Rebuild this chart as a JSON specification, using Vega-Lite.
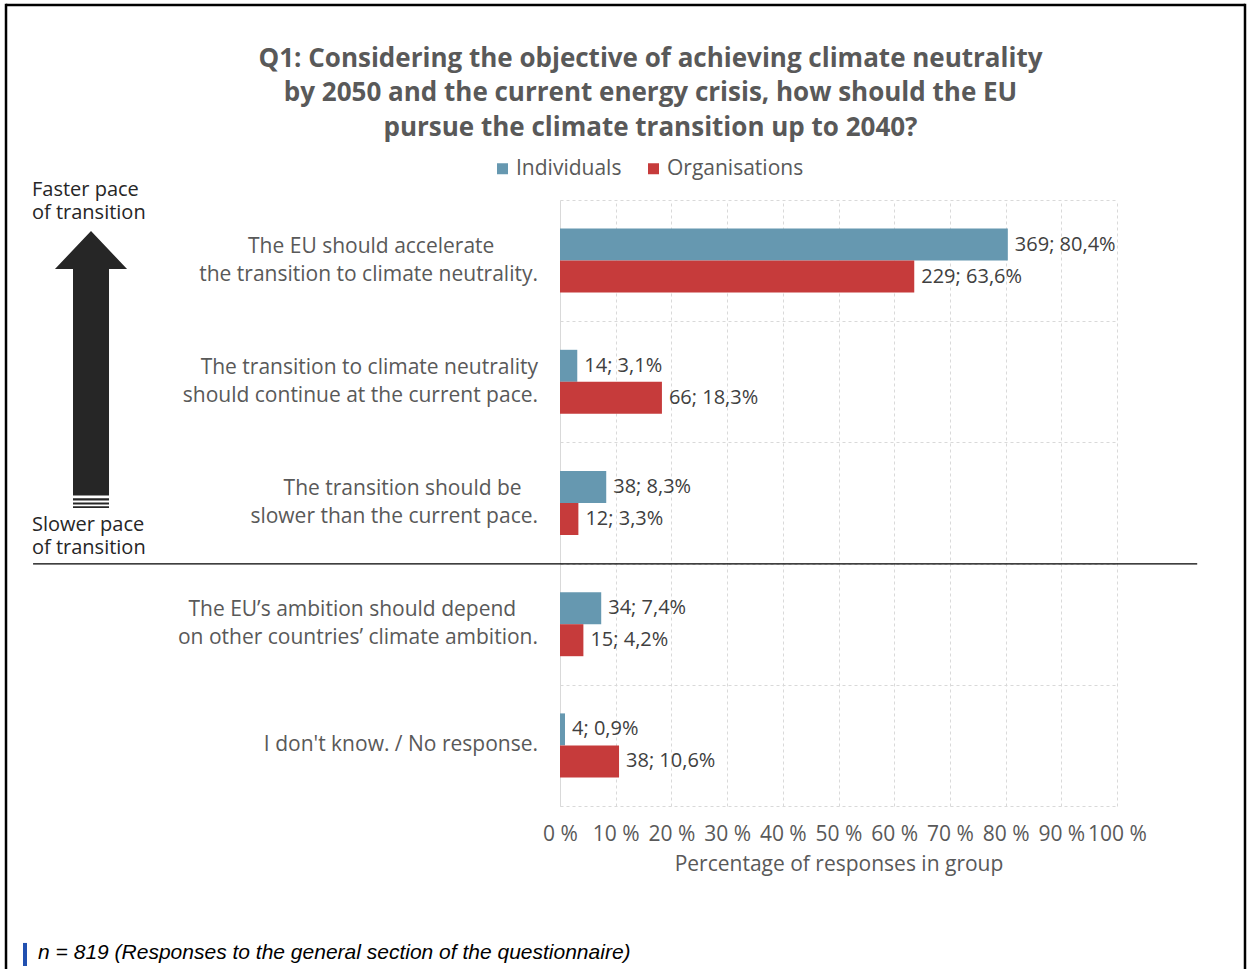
{
  "$schema": "https://vega.github.io/schema/vega-lite/v6.json",
  "width": 557,
  "height": 606,
  "autosize": {"type": "none"},
  "padding": {"left": 560, "top": 200, "right": 131, "bottom": 163},
  "background": "white",
  "title": {
    "text": [
      "Q1: Considering the objective of achieving climate neutrality",
      "by 2050 and the current energy crisis, how should the EU",
      "pursue the climate transition up to 2040?"
    ],
    "anchor": "middle",
    "frame": "group",
    "dx": -188,
    "dy": 158,
    "offset": 20,
    "font": "Open Sans",
    "fontSize": 26,
    "fontWeight": "bold",
    "color": "#595959",
    "lineHeight": 34.5
  },
  "config": {"view": {"stroke": null}, "font": "Open Sans"},
  "layer": [
    {
      "data": {
        "values": [
          {"q": "The EU should accelerate\nthe transition to climate neutrality.", "group": "Individuals", "n": 369, "pct": 80.4},
          {"q": "The EU should accelerate\nthe transition to climate neutrality.", "group": "Organisations", "n": 229, "pct": 63.6},
          {"q": "The transition to climate neutrality\nshould continue at the current pace.", "group": "Individuals", "n": 14, "pct": 3.1},
          {"q": "The transition to climate neutrality\nshould continue at the current pace.", "group": "Organisations", "n": 66, "pct": 18.3},
          {"q": "The transition should be\nslower than the current pace.", "group": "Individuals", "n": 38, "pct": 8.3},
          {"q": "The transition should be\nslower than the current pace.", "group": "Organisations", "n": 12, "pct": 3.3},
          {"q": "The EU’s ambition should depend\non other countries’ climate ambition.", "group": "Individuals", "n": 34, "pct": 7.4},
          {"q": "The EU’s ambition should depend\non other countries’ climate ambition.", "group": "Organisations", "n": 15, "pct": 4.2},
          {"q": "I don't know. / No response.", "group": "Individuals", "n": 4, "pct": 0.9},
          {"q": "I don't know. / No response.", "group": "Organisations", "n": 38, "pct": 10.6}
        ]
      },
      "transform": [
        {"calculate": "datum.n + '; ' + replace(format(datum.pct, '.1f'), '.', ',') + '%'", "as": "label"},
        {"calculate": "split(datum.q, '\\n')[0]", "as": "l1"},
        {"calculate": "indexof(datum.q, '\\n') >= 0 ? split(datum.q, '\\n')[1] : ''", "as": "l2"},
        {"calculate": "length(datum.l1) < length(datum.l2) ? pad(datum.l1, length(datum.l1) + round(0.65 * (length(datum.l2) - length(datum.l1))), '\u00a0', 'right') + '\u2060' : datum.l1", "as": "t1"},
        {"calculate": "length(datum.l2) < length(datum.l1) ? pad(datum.l2, length(datum.l2) + round(0.65 * (length(datum.l1) - length(datum.l2))), '\u00a0', 'right') + '\u2060' : datum.l2", "as": "t2"}
      ],
      "encoding": {
        "y": {
          "field": "q",
          "type": "nominal",
          "sort": null,
          "scale": {"paddingInner": 0, "paddingOuter": 0},
          "axis": {
            "title": null,
            "labels": false,
            "ticks": false,
            "domain": true,
            "domainColor": "#d9d9d9",
            "domainWidth": 1,
            "grid": true,
            "gridDash": [3, 3],
            "gridColor": "#d9d9d9",
            "gridWidth": 1,
            "tickBand": "extent"
          }
        },
        "x": {
          "field": "pct",
          "type": "quantitative",
          "scale": {"domain": [0, 100], "nice": false},
          "axis": {
            "title": "Percentage of responses in group",
            "values": [0, 10, 20, 30, 40, 50, 60, 70, 80, 90, 100],
            "labelExpr": "datum.value + ' %'",
            "ticks": false,
            "domain": false,
            "grid": true,
            "gridDash": [3, 3],
            "gridColor": "#d9d9d9",
            "gridWidth": 1,
            "labelFont": "Open Sans",
            "labelFontSize": 21,
            "labelColor": "#595959",
            "labelPadding": 17,
            "labelFlush": false,
            "labelOverlap": false,
            "titleFont": "Open Sans",
            "titleFontSize": 21,
            "titleFontWeight": "normal",
            "titleColor": "#595959",
            "titlePadding": 9
          }
        }
      },
      "layer": [
        {
          "transform": [{"filter": "datum.group === 'Individuals'"}],
          "mark": {"type": "bar", "height": 32, "yOffset": -16},
          "encoding": {
            "color": {
              "field": "group",
              "type": "nominal",
              "scale": {"domain": ["Individuals", "Organisations"], "range": ["#6698B0", "#C63B3B"]},
              "legend": {
                "title": null,
                "orient": "none",
                "legendX": -68,
                "legendY": -42,
                "direction": "horizontal",
                "symbolType": "square",
                "symbolSize": 121,
                "symbolStrokeWidth": 0,
                "labelFont": "Open Sans",
                "labelFontSize": 21,
                "labelColor": "#595959",
                "labelOffset": 3,
                "columnPadding": 21,
                "padding": 0
              }
            }
          }
        },
        {
          "transform": [{"filter": "datum.group === 'Organisations'"}],
          "mark": {"type": "bar", "height": 32, "yOffset": 16},
          "encoding": {
            "color": {
              "field": "group",
              "type": "nominal",
              "scale": {"domain": ["Individuals", "Organisations"], "range": ["#6698B0", "#C63B3B"]}
            }
          }
        },
        {
          "transform": [{"filter": "datum.group === 'Individuals'"}],
          "mark": {"type": "text", "align": "left", "baseline": "middle", "dx": 7, "yOffset": -16, "font": "Open Sans", "fontSize": 20, "color": "#404040"},
          "encoding": {"text": {"field": "label"}}
        },
        {
          "transform": [{"filter": "datum.group === 'Organisations'"}],
          "mark": {"type": "text", "align": "left", "baseline": "middle", "dx": 7, "yOffset": 16, "font": "Open Sans", "fontSize": 20, "color": "#404040"},
          "encoding": {"text": {"field": "label"}}
        },
        {
          "transform": [{"filter": "datum.group === 'Individuals' && indexof(datum.q, '\\n') >= 0"}],
          "mark": {"type": "text", "align": "right", "baseline": "middle", "dx": -22, "dy": -14, "font": "Open Sans", "fontSize": 21, "color": "#595959"},
          "encoding": {"x": {"datum": 0, "type": "quantitative"}, "text": {"field": "t1"}}
        },
        {
          "transform": [{"filter": "datum.group === 'Individuals' && indexof(datum.q, '\\n') >= 0"}],
          "mark": {"type": "text", "align": "right", "baseline": "middle", "dx": -22, "dy": 14, "font": "Open Sans", "fontSize": 21, "color": "#595959"},
          "encoding": {"x": {"datum": 0, "type": "quantitative"}, "text": {"field": "t2"}}
        },
        {
          "transform": [{"filter": "datum.group === 'Individuals' && indexof(datum.q, '\\n') < 0"}],
          "mark": {"type": "text", "align": "right", "baseline": "middle", "dx": -22, "font": "Open Sans", "fontSize": 21, "color": "#595959"},
          "encoding": {"x": {"datum": 0, "type": "quantitative"}, "text": {"field": "l1"}}
        }
      ]
    },
    {
      "data": {"values": [{}]},
      "mark": {"type": "rule", "color": "#000000", "strokeWidth": 2.5},
      "encoding": {
        "x": {"datum": -99.46, "type": "quantitative"},
        "x2": {"datum": 122.98},
        "y": {"datum": "The EU should accelerate\nthe transition to climate neutrality.", "type": "nominal", "bandPosition": -1.609}
      }
    },
    {
      "data": {"values": [{}]},
      "mark": {"type": "rule", "color": "#000000", "strokeWidth": 2.5},
      "encoding": {
        "x": {"datum": -99.46, "type": "quantitative"},
        "y": {"datum": "The EU should accelerate\nthe transition to climate neutrality.", "type": "nominal", "bandPosition": -1.619},
        "y2": {"datum": "I don't know. / No response.", "bandPosition": 2.6}
      }
    },
    {
      "data": {"values": [{}]},
      "mark": {"type": "rule", "color": "#000000", "strokeWidth": 2.5},
      "encoding": {
        "x": {"datum": 122.98, "type": "quantitative"},
        "y": {"datum": "The EU should accelerate\nthe transition to climate neutrality.", "type": "nominal", "bandPosition": -1.619},
        "y2": {"datum": "I don't know. / No response.", "bandPosition": 2.6}
      }
    },
    {
      "data": {"values": [{}]},
      "mark": {"type": "rule", "color": "#000000", "strokeWidth": 1.3},
      "encoding": {
        "x": {"datum": -94.6, "type": "quantitative"},
        "x2": {"datum": 114.4},
        "y": {"datum": "The EU’s ambition should depend\non other countries’ climate ambition.", "type": "nominal", "bandPosition": 0.003}
      }
    },
    {
      "data": {"values": [{}]},
      "mark": {
        "type": "point",
        "filled": true,
        "opacity": 1,
        "color": "#262626",
        "strokeWidth": 0,
        "size": 76729,
        "shape": "M0,-1 L0.26,-0.725 L0.13,-0.725 L0.13,0.91 L-0.13,0.91 L-0.13,-0.725 L-0.26,-0.725 Z M-0.13,0.93 L0.13,0.93 L0.13,0.947 L-0.13,0.947 Z M-0.13,0.961 L0.13,0.961 L0.13,0.976 L-0.13,0.976 Z M-0.13,0.988 L0.13,0.988 L0.13,1 L-0.13,1 Z"
      },
      "encoding": {
        "x": {"datum": -84.2, "type": "quantitative"},
        "y": {"datum": "The transition to climate neutrality\nshould continue at the current pace.", "type": "nominal", "bandPosition": 0.398}
      }
    },
    {
      "data": {"values": [{}]},
      "mark": {"type": "text", "align": "left", "baseline": "middle", "font": "Open Sans", "fontSize": 20, "lineHeight": 23, "color": "#262626"},
      "encoding": {
        "x": {"datum": -94.8, "type": "quantitative"},
        "y": {"datum": "The EU should accelerate\nthe transition to climate neutrality.", "type": "nominal", "bandPosition": -0.0825},
        "text": {"value": ["Faster pace", "of transition"]}
      }
    },
    {
      "data": {"values": [{}]},
      "mark": {"type": "text", "align": "left", "baseline": "middle", "font": "Open Sans", "fontSize": 20, "lineHeight": 23, "color": "#262626"},
      "encoding": {
        "x": {"datum": -94.8, "type": "quantitative"},
        "y": {"datum": "The transition should be\nslower than the current pace.", "type": "nominal", "bandPosition": 0.6815},
        "text": {"value": ["Slower pace", "of transition"]}
      }
    },
    {
      "data": {"values": [{}]},
      "mark": {"type": "rule", "color": "#2150B0", "strokeWidth": 4},
      "encoding": {
        "x": {"datum": -96.05, "type": "quantitative"},
        "y": {"datum": "I don't know. / No response.", "type": "nominal", "bandPosition": 2.13},
        "y2": {"datum": "I don't know. / No response.", "bandPosition": 2.32}
      }
    },
    {
      "data": {"values": [{}]},
      "mark": {"type": "text", "align": "left", "baseline": "middle", "font": "Liberation Sans", "fontStyle": "italic", "fontSize": 21, "color": "#000000"},
      "encoding": {
        "x": {"datum": -93.7, "type": "quantitative"},
        "y": {"datum": "I don't know. / No response.", "type": "nominal", "bandPosition": 2.213},
        "text": {"value": "n = 819 (Responses to the general section of the questionnaire)"}
      }
    }
  ]
}
